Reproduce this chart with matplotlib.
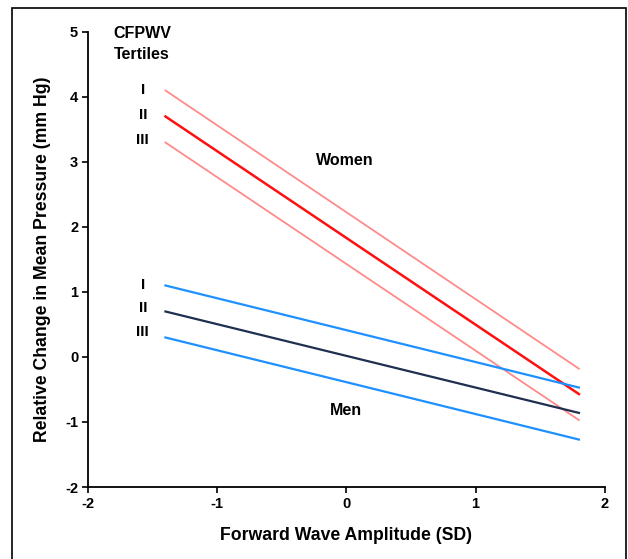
import matplotlib
matplotlib.use("Agg")
import matplotlib.pyplot as plt
from matplotlib.patches import Rectangle

plt.rcParams['font.family'] = ['Liberation Sans', 'DejaVu Sans']
plt.rcParams['font.weight'] = 'bold'
plt.rcParams['axes.unicode_minus'] = False

x_range = [-1.4, 1.8]
tertiles = ["I", "II", "III"]
women_start = [4.1, 3.7, 3.3]
women_end = [-0.18, -0.57, -0.97]
men_start = [1.1, 0.7, 0.3]
men_end = [-0.47, -0.86, -1.27]
women_colors = ["#ff8a8a", "#ff1010", "#ff8a8a"]
men_colors = ["#1e90ff", "#1f2f4f", "#1e90ff"]
women_widths = [1.3, 1.8, 1.3]
men_widths = [1.6, 1.6, 1.6]
women_label_y = [4.10, 3.72, 3.34]
men_label_y = [1.11, 0.75, 0.38]
xticks = [-2, -1, 0, 1, 2]
yticks = [-2, -1, 0, 1, 2, 3, 4, 5]

fig = plt.figure(figsize=(6.28, 5.59), dpi=100)
ax = fig.add_axes([0.140, 0.1288, 0.823, 0.814])

for s, e, c, w in zip(women_start, women_end, women_colors, women_widths):
    ax.plot(x_range, [s, e], color=c, lw=w)
for s, e, c, w in zip(men_start, men_end, men_colors, men_widths):
    ax.plot(x_range, [s, e], color=c, lw=w)

for t, y in zip(tertiles, women_label_y):
    ax.text(-1.575, y, t, ha='center', va='center', fontsize=11, fontweight='bold')
for t, y in zip(tertiles, men_label_y):
    ax.text(-1.575, y, t, ha='center', va='center', fontsize=11, fontweight='bold')

ax.text(-1.8, 5.09, "CFPWV\nTertiles", ha='left', va='top', fontsize=11.5,
        fontweight='bold', linespacing=1.5)
ax.text(-0.012, 3.03, "Women", ha='center', va='center', fontsize=11.5, fontweight='bold')
ax.text(-0.006, -0.83, "Men", ha='center', va='center', fontsize=11.5, fontweight='bold')

ax.set_xlim(-2, 2)
ax.set_ylim(-2, 5)
ax.set_xticks(xticks)
ax.set_yticks(yticks)
ax.tick_params(direction='out', length=4, width=1.2, labelsize=10.5, pad=3)
for lab in ax.get_xticklabels() + ax.get_yticklabels():
    lab.set_fontweight('bold')
ax.spines['top'].set_visible(False)
ax.spines['right'].set_visible(False)
ax.spines['left'].set_linewidth(1.3)
ax.spines['bottom'].set_linewidth(1.3)
ax.set_xlabel("Forward Wave Amplitude (SD)", fontsize=12.7, fontweight='bold', labelpad=12)
ax.set_ylabel("Relative Change in Mean Pressure (mm Hg)", fontsize=12.7, fontweight='bold', labelpad=10)

fig.patches.append(Rectangle((12/628, -0.01), (626-12)/628, 1 - 8/559 + 0.01,
                             transform=fig.transFigure, fill=False,
                             edgecolor='black', lw=1.2))

fig.savefig("out.png", dpi=100)
